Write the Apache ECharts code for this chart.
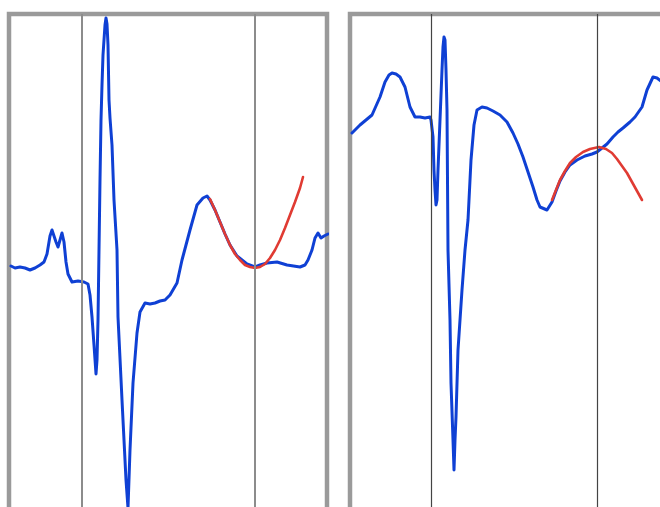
<!DOCTYPE html>
<html>
<head>
<meta charset="utf-8">
<script src="https://cdn.jsdelivr.net/npm/echarts@6/dist/echarts.min.js"></script>
<style>html,body{margin:0;padding:0;background:#fff;overflow:hidden;}#c{width:660px;height:507px;}</style>
</head>
<body>
<div id="c"></div>
<script>
// Time (samples) and amplitude values
const leftTrace = [
  [2,-2],[6,-4],[11,-3],[16,-4],[21,-6],[26,-4],[31,-1],[35,2],[38,10],[41,28],[43,34],[45,32],[47,22],[49,17],[51,24],[53,31],[55,22],[57,2],[59,-10],[63,-18],[69,-17],[75,-18],[79,-20],[81,-31],[83,-53],[85,-81],[87,-110],[88,-96],[89,-56],[90,14],[91,84],[92,144],[93,179],[94,209],[96,239],[97,246],[98,240],[99,219],[100,164],[101,146],[103,119],[105,64],[108,14],[109,-53],[113,-136],[117,-216],[119,-244],[121,-186],[124,-119],[128,-69],[131,-48],[136,-39],[141,-40],[146,-39],[151,-37],[156,-36],[161,-31],[168,-19],[173,4],[177,19],[181,34],[188,59],[194,66],[198,68],[201,64],[206,54],[211,42],[216,30],[221,19],[228,8],[238,0],[246,-3],[251,-1],[258,1],[268,2],[278,-1],[291,-3],[296,-1],[299,4],[303,14],[306,26],[309,31],[312,26],[315,28],[319,30]
];
const leftFit = [
  [201,65],[206,54],[211,42],[216,30],[221,19],[226,10],[231,4],[236,-1],[241,-3],[246,-4],[251,-3],[256,0],[261,6],[266,14],[271,24],[276,36],[281,49],[286,62],[291,76],[294,87]
];
const leftMarkers = [73, 246];

const rightTrace = [
  [2,131],[10,139],[16,144],[22,149],[26,158],[30,167],[35,182],[39,189],[42,191],[46,190],[50,187],[55,177],[60,157],[65,147],[70,147],[75,146],[80,147],[81,144],[83,127],[84,94],[85,74],[86,59],[87,64],[88,94],[90,144],[92,194],[93,217],[94,227],[95,224],[96,194],[97,154],[97.5,84],[98,14],[100,-56],[101,-119],[103,-176],[104,-206],[105,-176],[106,-153],[108,-86],[112,-26],[115,14],[118,44],[121,104],[124,139],[127,154],[132,157],[137,156],[143,153],[150,149],[157,142],[163,131],[168,120],[173,107],[178,92],[183,77],[187,64],[190,57],[197,54],[202,62],[206,73],[210,83],[215,92],[220,99],[227,104],[235,108],[242,110],[247,112],[252,116],[257,120],[263,127],[268,132],[273,136],[280,142],[285,147],[292,157],[297,174],[303,187],[307,186],[312,182]
];
const rightFit = [
  [202,64],[206,74],[210,84],[215,93],[220,101],[226,107],[233,112],[240,115],[249,117],[256,115],[262,111],[267,105],[272,98],[277,91],[282,82],[287,73],[292,64]
];
const rightMarkers = [81, 247];

const BLUE = '#0f40d4';
const RED = '#e03b33';

const chart = echarts.init(document.getElementById('c'), null, {renderer: 'canvas'});
const hiddenAxis = {
  show: true,
  axisLine: {show: false}, axisTick: {show: false}, axisLabel: {show: false}, splitLine: {show: false}
};
function markerSeries(idx, vals, color, width) {
  return {
    type: 'line', xAxisIndex: idx, yAxisIndex: idx, data: [], z: 1, silent: true,
    markLine: {
      silent: true, symbol: 'none', animation: false,
      label: {show: false},
      lineStyle: {color: color, width: width, type: 'solid'},
      data: vals.map(v => ({xAxis: v}))
    }
  };
}
function traceSeries(idx, data, color, z, w) {
  return {
    type: 'line', xAxisIndex: idx, yAxisIndex: idx, data: data, z: z,
    symbol: 'none', smooth: false, clip: true,
    lineStyle: {color: color, width: w, join: 'round', cap: 'round'}
  };
}
const gridBase = {top: 14, height: 500, show: true, borderColor: '#9a9a9a', borderWidth: 4.5, backgroundColor: '#fff', containLabel: false, outerBoundsMode: 'none'};
chart.setOption({
  animation: false,
  backgroundColor: '#ffffff',
  grid: [
    Object.assign({left: 9, width: 318}, gridBase),
    Object.assign({left: 350, width: 320}, gridBase)
  ],
  xAxis: [
    Object.assign({type: 'value', gridIndex: 0, min: 0, max: 318}, hiddenAxis),
    Object.assign({type: 'value', gridIndex: 1, min: 0, max: 320}, hiddenAxis)
  ],
  yAxis: [
    Object.assign({type: 'value', gridIndex: 0, min: -250, max: 250}, hiddenAxis),
    Object.assign({type: 'value', gridIndex: 1, min: -250, max: 250}, hiddenAxis)
  ],
  series: [
    markerSeries(0, leftMarkers, '#8c8c8c', 2),
    markerSeries(1, rightMarkers, '#444444', 1.2),
    traceSeries(0, leftTrace, BLUE, 2, 3),
    traceSeries(0, leftFit, RED, 3, 2.6),
    traceSeries(1, rightTrace, BLUE, 2, 3),
    traceSeries(1, rightFit, RED, 3, 2.6)
  ]
});
</script>
</body>
</html>
